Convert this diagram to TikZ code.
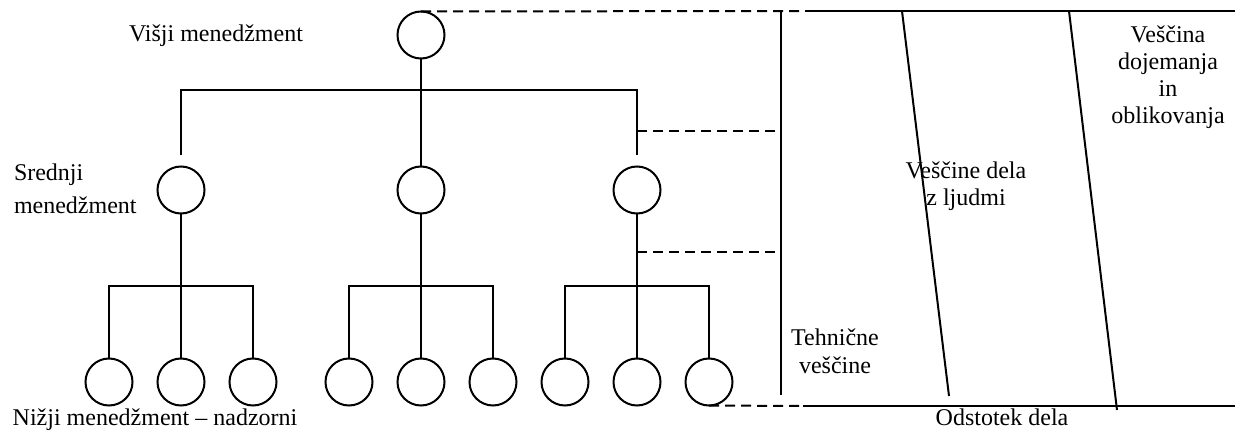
\documentclass[tikz,border=0pt]{standalone}
\usepackage{fontspec}
\setmainfont{Liberation Serif}
\begin{document}
\begin{tikzpicture}[x=1pt,y=-1pt,
    every path/.style={line width=2pt},
    person/.style={draw,circle,minimum size=47pt,inner sep=0pt,outer sep=0pt,line width=2pt},
    guide/.style={dashed,dash pattern=on 10pt off 6pt,line width=2pt},
    lbl/.style={font=\fontsize{24}{27.5}\selectfont,inner sep=0pt,align=center,anchor=base}]
\path[use as bounding box] (0,0) rectangle (1235,433);

% organisation chart
\node[person] (t) at (421,35) {};
\node[person] (m1) at (181,190) {};
\node[person] (m2) at (421,190) {};
\node[person] (m3) at (637,190) {};
\foreach \g/\x in {1/109,2/349,3/565}{
  \node[person] (b\g1) at (\x,382) {};
  \node[person] (b\g2) at (\x+72,382) {};
  \node[person] (b\g3) at (\x+144,382) {};
}
\coordinate (topbar) at (0,90);
\coordinate (lowbar) at (0,286);

\draw (t.south) -- (m2.north);
\draw ([yshift=11pt]m1.north) -- (m1.north |- topbar) -- (m3.north |- topbar) -- ([yshift=11pt]m3.north);
\foreach \g in {1,2,3}{
  \draw (m\g.south) -- (b\g2.north);
  \draw (b\g1.north) -- (b\g1.north |- lowbar) -- (b\g3.north |- lowbar) -- (b\g3.north);
}

% skills chart
\coordinate (vt) at (781,11);
\coordinate (vb) at (781,395);
\coordinate (topend) at (805,11);
\coordinate (topright) at (1235,11);
\coordinate (botend) at (803,406);
\coordinate (botright) at (1235,406);
\coordinate (d1) at (637,131);
\coordinate (d2) at (637,252);
\coordinate (s1t) at (902,11);
\coordinate (s1b) at (949,396);
\coordinate (s2t) at (1069,11);
\coordinate (s2b) at (1117,410);

\draw (vt) -- (vb);
\draw (topend) -- (topright);
\draw (botend) -- (botright);
\draw (s1t) -- (s1b);
\draw (s2t) -- (s2b);
\draw[guide] (t.north) -- (topend);
\draw[guide] (d1) -- (d1 -| vt);
\draw[guide] (d2) -- (d2 -| vt);
\draw[guide] (b33.south) -- (botend);

% labels (base anchor sits on the last line of a multi-line label)
\node[lbl] (lvisji) at (216,42) {Višji menedžment};
\node[lbl,font=\fontsize{24}{33}\selectfont,align=left,anchor=base west] (lsrednji) at (13,214) {Srednji\\menedžment};
\node[lbl] (lnizji) at (155,425) {Nižji menedžment – nadzorni};
\node[lbl] (ltehn) at (835,373) {Tehnične\\veščine};
\node[lbl] (lljudi) at (966,206) {Veščine dela\\z ljudmi};
\node[lbl,font=\fontsize{24}{27.3}\selectfont] (lkonc) at (1168,124) {Veščina\\dojemanja\\in\\oblikovanja};
\node[lbl] (lodst) at (1002,425) {Odstotek dela};
\end{tikzpicture}
\end{document}
